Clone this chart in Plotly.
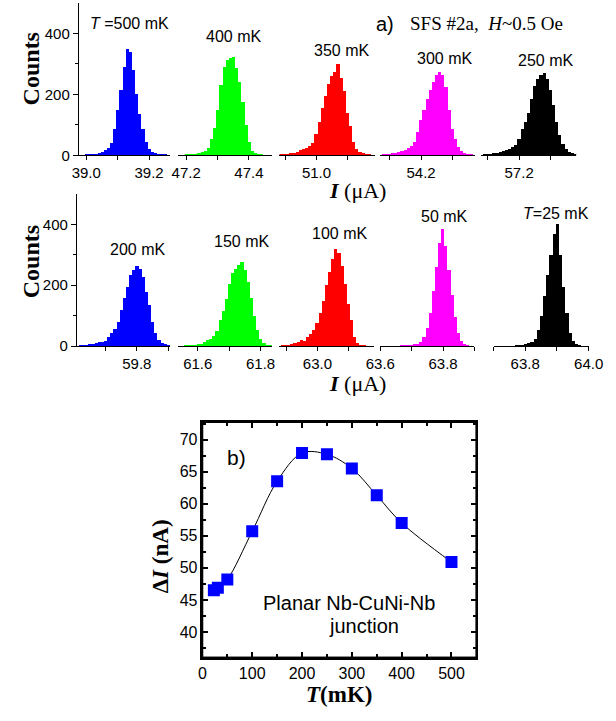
import plotly.graph_objects as go

# ---------------- DATA ----------------
BIN = 0.01  # histogram bin width (uA)

# Row 1 histograms (start = centre of first bin, uA)
h500_start = 39.00
h500 = [1, 2, 3, 5, 6, 10, 17, 25, 40, 85, 150, 215, 290, 350, 340, 280, 200, 135, 85, 45,
        20, 10, 7, 4, 3, 2]
h400_start = 47.20
h400 = [1, 2, 3, 5, 7, 10, 14, 25, 55, 90, 150, 230, 290, 312, 320, 322, 285, 240, 175, 100,
        45, 15, 6, 3, 1]
h350_start = 50.88
h350 = [2, 3, 4, 5, 7, 9, 12, 16, 20, 24, 32, 42, 70, 110, 155, 195, 235, 260, 272, 300,
        255, 210, 140, 95, 45, 20, 10, 6, 3, 1]
h300_start = 54.08
h300 = [3, 4, 5, 6, 8, 10, 13, 18, 24, 30, 45, 75, 115, 150, 185, 215, 240, 262, 275, 262,
        225, 150, 85, 52, 27, 14, 7, 4, 2]
h250_start = 57.09
h250 = [1, 2, 4, 6, 9, 11, 14, 18, 22, 27, 33, 54, 86, 108, 140, 184, 227, 249, 265, 270,
        250, 215, 165, 110, 65, 38, 22, 12, 6, 3]

# Row 2 histograms
h200_start = 59.62
h200 = [2, 4, 5, 7, 9, 11, 13, 15, 18, 30, 43, 58, 80, 118, 160, 195, 235, 250, 262, 255,
        228, 178, 135, 80, 45, 20, 12, 7, 3]
h150_start = 61.56
h150 = [1, 2, 3, 5, 7, 9, 14, 20, 25, 35, 50, 85, 115, 155, 205, 240, 255, 268, 278, 250,
        210, 158, 100, 55, 25, 11, 5, 2]
h100_start = 62.89
h100 = [2, 4, 5, 7, 10, 14, 20, 18, 30, 40, 55, 75, 110, 150, 200, 245, 285, 318, 305, 265,
        205, 140, 85, 30, 10, 4, 2]
h50_start = 63.67
h50 = [1, 2, 3, 4, 6, 9, 15, 30, 60, 110, 180, 260, 340, 385, 330, 250, 170, 95, 45, 18, 8, 3]
h25_start = 63.77
h25 = [1, 2, 4, 6, 10, 14, 25, 55, 100, 165, 235, 300, 370, 400, 300, 195, 108, 45, 18, 8, 3]

hist_labels_top = ["<i>T</i> =500 mK", "400 mK", "350 mK", "300 mK", "250 mK"]
hist_labels_bot = ["200 mK", "150 mK", "100 mK", "50 mK", "<i>T</i>=25 mK"]

# Panel b
T_mK = [23, 31, 50, 100, 150, 200, 250, 300, 350, 400, 500]
dI_nA = [46.5, 46.9, 48.2, 55.7, 63.5, 67.9, 67.7, 65.5, 61.3, 57.0, 50.9]

# ---------------- LAYOUT HELPERS ----------------
W, H = 616, 721
def px(x):
    return x / W
def py(y):
    return 1 - y / H

SANS = "Liberation Sans"
SERIF = "Liberation Serif"
colors = ["#0000FF", "#00FF00", "#FF0000", "#FF00FF", "#000000"]

hists = [(h500_start, h500), (h400_start, h400), (h350_start, h350),
         (h300_start, h300), (h250_start, h250),
         (h200_start, h200), (h150_start, h150), (h100_start, h100),
         (h50_start, h50), (h25_start, h25)]

# pixel domains and data ranges of each histogram panel (row 1 then row 2)
x_dom = [(67, 163), (171, 270), (278, 378), (384, 484), (490, 590),
         (65, 163), (171, 270), (278, 377), (384, 483), (503, 603)]
x_rng = [(38.976, 39.267), (47.173, 47.473), (50.882, 51.185), (54.070, 54.373), (57.079, 57.382),
         (59.609, 59.906), (61.536, 61.836), (62.879, 63.179), (63.6, 63.9), (63.7, 64.0)]
row_y = [(157, 3), (350, 196)]

fig = go.Figure()
layout = {}

for i in range(10):
    n = i + 1
    sfx = "" if n == 1 else str(n)
    row = 0 if i < 5 else 1
    layout["xaxis" + sfx] = dict(
        domain=[px(x_dom[i][0]), px(x_dom[i][1])], range=list(x_rng[i]), anchor="y" + sfx,
        showline=True, linecolor="black", linewidth=1,
        ticks="outside", ticklen=4, tickcolor="black", tickwidth=1,
        tickmode="linear", tick0=0, dtick=0.2, tickformat=".1f",
        minor=dict(dtick=0.1, tick0=0, ticks="outside", ticklen=4, tickcolor="black"),
        showgrid=False, zeroline=False,
        tickfont=dict(family=SANS, size=15, color="black"))
    ydom = [py(row_y[row][0]), py(row_y[row][1])]
    if i % 5 == 0:
        layout["yaxis" + sfx] = dict(
            domain=ydom, range=[0, 500], anchor="x" + sfx,
            showline=True, linecolor="black", linewidth=1,
            ticks="outside", ticklen=5, tickcolor="black",
            tickmode="array", tickvals=[0, 200, 400],
            minor=dict(tickvals=[100, 300], ticks="outside", ticklen=3, tickcolor="black"),
            showgrid=False, zeroline=False,
            tickfont=dict(family=SANS, size=15, color="black"))
    else:
        layout["yaxis" + sfx] = dict(domain=ydom, range=[0, 500], anchor="x" + sfx, visible=False)
    start, counts = hists[i]
    xs = [start + k * BIN for k in range(len(counts))]
    fig.add_trace(go.Bar(x=xs, y=counts, width=BIN,
                         marker=dict(color=colors[i % 5], line=dict(width=0)),
                         xaxis="x" + sfx, yaxis="y" + sfx, showlegend=False))

# panel b
BX0, BX1, BY0, BY1 = 197, 485, 665, 427
XR = [0, 550]
YR = [36, 72.7]
layout["xaxis11"] = dict(domain=[px(BX0), px(BX1)], range=XR, anchor="y11",
                         showline=True, mirror="ticks", linecolor="black", linewidth=1.5,
                         ticks="inside", ticklen=6, tickcolor="black", tickwidth=1.5,
                         tickmode="linear", tick0=0, dtick=100,
                         minor=dict(dtick=50, tick0=0, ticks="inside", ticklen=4,
                                    tickcolor="black", tickwidth=1.5),
                         showgrid=False, zeroline=False,
                         tickfont=dict(family=SANS, size=16, color="black"))
layout["yaxis11"] = dict(domain=[py(BY0), py(BY1)], range=YR, anchor="x11",
                         showline=True, mirror="ticks", linecolor="black", linewidth=1.5,
                         ticks="inside", ticklen=6, tickcolor="black", tickwidth=1.5,
                         tickmode="linear", tick0=0, dtick=5,
                         minor=dict(dtick=2.5, tick0=0, ticks="inside", ticklen=4,
                                    tickcolor="black", tickwidth=1.5),
                         showgrid=False, zeroline=False,
                         tickfont=dict(family=SANS, size=16, color="black"))

# frame of panel b drawn along the axis range (fallback for the box outline)
fig.add_trace(go.Scatter(x=[XR[0], XR[1], XR[1], XR[0], XR[0]],
                         y=[YR[0], YR[0], YR[1], YR[1], YR[0]],
                         mode="lines", line=dict(color="black", width=1.5),
                         cliponaxis=False, hoverinfo="skip",
                         xaxis="x11", yaxis="y11", showlegend=False))
fig.add_trace(go.Scatter(x=T_mK, y=dI_nA, mode="lines",
                         line=dict(color="black", width=1, shape="spline", smoothing=1),
                         xaxis="x11", yaxis="y11", showlegend=False))
fig.add_trace(go.Scatter(x=T_mK, y=dI_nA, mode="markers",
                         marker=dict(symbol="square", size=12, color="#0000FF", line=dict(width=0)),
                         xaxis="x11", yaxis="y11", showlegend=False))

# box frame of panel b (paper coordinates)
shapes = [dict(type="rect", xref="paper", yref="paper",
               x0=px(BX0), x1=px(BX1), y0=py(BY0), y1=py(BY1),
               line=dict(color="black", width=1.5), fillcolor="rgba(0,0,0,0)", layer="above")]

# ---------------- ANNOTATIONS ----------------
ann = []
def add(text, x, y, family, size, xanchor="center", angle=0):
    ann.append(dict(text=text, x=px(x), y=py(y), xref="paper", yref="paper", showarrow=False,
                    xanchor=xanchor, yanchor="middle", textangle=angle,
                    font=dict(family=family, size=size, color="black")))

top_lab_pos = [(120, 24), (230, 37), (343, 51), (452, 59), (558, 61)]
bot_lab_pos = [(129, 252), (238, 244), (341, 236), (452, 219), (569, 216)]
for t, (x, y) in zip(hist_labels_top, top_lab_pos):
    add(t, x, y, SANS, 16)
for t, (x, y) in zip(hist_labels_bot, bot_lab_pos):
    add(t, x, y, SANS, 16)

add("a)", 389, 24, SANS, 20)
add("SFS #2a,  <i>H</i>~0.5 Oe", 413, 24, SERIF, 19, xanchor="left")

add("<b>Counts</b>", 17, 70, SERIF, 24, angle=-90)
add("<b>Counts</b>", 17, 265, SERIF, 24, angle=-90)
add("<b><i>I</i></b> (\u03bcA)", 360, 193, SERIF, 22)
add("<b><i>I</i></b> (\u03bcA)", 360, 388, SERIF, 22)

add("b)", 233, 463, SANS, 21)
add("Planar Nb-CuNi-Nb", 351, 610, SANS, 20)
add("junction", 367, 633, SANS, 20)
add("<b><i>T</i>(mK)</b>", 341, 702, SERIF, 23)
add("<b>\u0394<i>I</i> (nA)</b>", 153, 563, SERIF, 23, angle=-90)

fig.update_layout(width=W, height=H, margin=dict(l=0, r=0, t=0, b=0),
                  paper_bgcolor="white", plot_bgcolor="white",
                  barmode="overlay", bargap=0, annotations=ann, shapes=shapes, **layout)

fig.write_html("out.html")
